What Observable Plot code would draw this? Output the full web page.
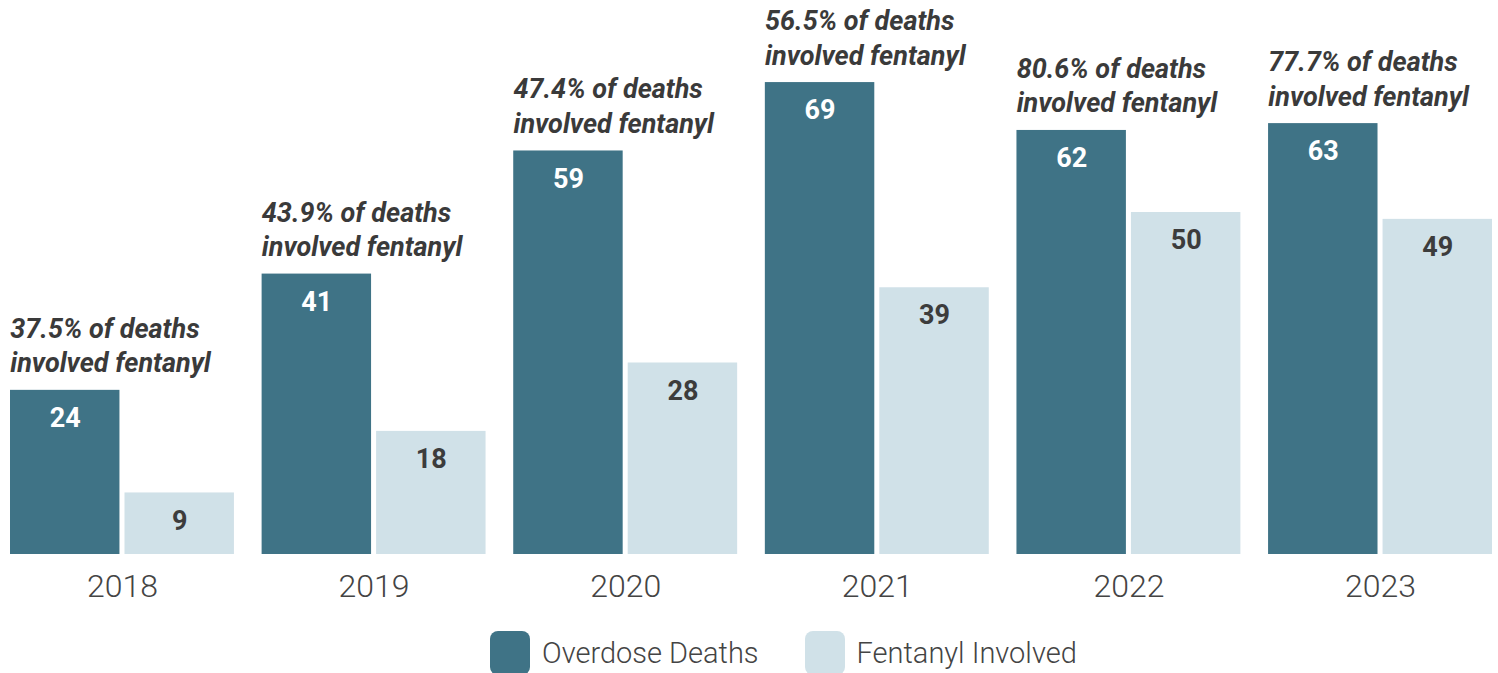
<!DOCTYPE html>
<html>
<head>
<meta charset="utf-8">
<script src="https://cdn.jsdelivr.net/npm/d3@7"></script>
<script src="https://cdn.jsdelivr.net/npm/@observablehq/plot@0.6"></script>
<style>
  body { margin: 0; background: #fff; font-family: Roboto, sans-serif; }
  #wrap { position: relative; width: 1498px; height: 673px; overflow: hidden; }
  #legend { position: absolute; left: 490px; top: 631px; display: flex; align-items: center; }
  .item { display: flex; align-items: center; margin-right: 46px; }
  .sw { width: 40px; height: 44px; border-radius: 8px; margin-right: 12px; }
  .lab { font-family: Roboto, sans-serif; font-weight: 300; font-size: 29px; color: #444; }
</style>
</head>
<body>
<div id="wrap">
  <div id="chart"></div>
  <div id="legend"></div>
</div>
<script>
const years = ["2018", "2019", "2020", "2021", "2022", "2023"];
const overdoseDeaths = [24, 41, 59, 69, 62, 63];
const fentanylInvolved = [9, 18, 28, 39, 50, 49];
const fentanylShare = ["37.5%", "43.9%", "47.4%", "56.5%", "80.6%", "77.7%"];
const seriesNames = ["Overdose Deaths", "Fentanyl Involved"];
const seriesColors = ["#3f7386", "#d0e1e8"];

const rows = [];
years.forEach((y, i) => {
  rows.push({year: y, series: seriesNames[0], value: overdoseDeaths[i]});
  rows.push({year: y, series: seriesNames[1], value: fentanylInvolved[i]});
});
const notes = years.map((y, i) => ({
  year: y, series: seriesNames[0], value: overdoseDeaths[i],
  text: `${fentanylShare[i]} of deaths\ninvolved fentanyl`
}));

const chart = Plot.plot({
  width: 1498,
  height: 620,
  marginLeft: 10,
  marginRight: 6,
  marginTop: 0,
  marginBottom: 66,
  style: {fontFamily: "Roboto, sans-serif", background: "transparent"},
  fx: {domain: years, paddingInner: 0.11, paddingOuter: 0, round: false, label: null},
  x: {domain: seriesNames, paddingInner: 0.044, paddingOuter: 0, round: false, axis: null},
  y: {domain: [0, 81], axis: null},
  color: {domain: seriesNames, range: seriesColors},
  marks: [
    Plot.barY(rows, {fx: "year", x: "series", y: "value", fill: "series"}),
    Plot.text(rows.filter(d => d.series === seriesNames[0]), {
      fx: "year", x: "series", y: "value", text: d => String(d.value),
      dy: 28, lineAnchor: "middle", fill: "#ffffff",
      fontSize: 27, fontWeight: 700
    }),
    Plot.text(rows.filter(d => d.series === seriesNames[1]), {
      fx: "year", x: "series", y: "value", text: d => String(d.value),
      dy: 28, lineAnchor: "middle", fill: "#3c3c3c",
      fontSize: 27, fontWeight: 700
    }),
    Plot.text(notes, {
      fx: "year", x: "series", y: "value", text: "text",
      textAnchor: "start", lineAnchor: "bottom", dx: -55, dy: -18,
      lineHeight: 1.28, fill: "#3a3a3a",
      fontSize: 27, fontWeight: 700, fontStyle: "italic"
    }),
    Plot.axisFx({anchor: "bottom", tickSize: 0, tickPadding: 20, fontSize: 32,
      fontWeight: 300, fill: "#444", label: null})
  ]
});
document.getElementById("chart").appendChild(chart);

const legend = document.getElementById("legend");
seriesNames.forEach((name, i) => {
  const item = document.createElement("div");
  item.className = "item";
  const sw = document.createElement("div");
  sw.className = "sw";
  sw.style.background = seriesColors[i];
  const lab = document.createElement("span");
  lab.className = "lab";
  lab.textContent = name;
  item.appendChild(sw);
  item.appendChild(lab);
  legend.appendChild(item);
});
</script>
</body>
</html>
